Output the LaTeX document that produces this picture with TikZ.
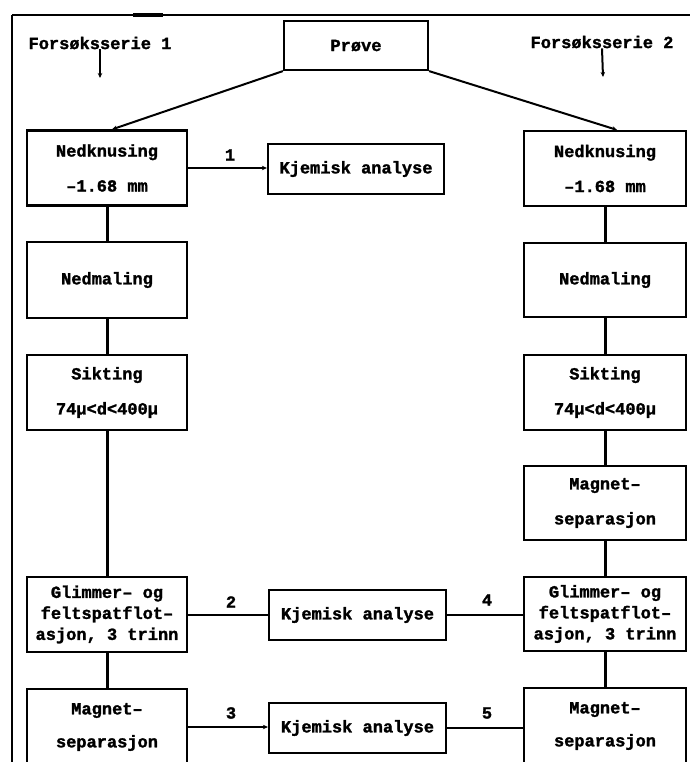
\documentclass[tikz,border=0pt]{standalone}
\usepackage{fontspec}
\setmainfont{Liberation Mono}[BoldFeatures={FakeBold=1.5}]
\usetikzlibrary{arrows.meta}
\begin{document}
\begin{tikzpicture}[x=1pt,y=-1pt,
  txt/.style={font=\bfseries\fontsize{17}{35}\selectfont,inner sep=0pt},
  box/.style={draw,line width=2.2pt,rectangle,inner sep=0pt,minimum width=160pt,minimum height=75pt,align=center,font=\bfseries\fontsize{17}{35}\selectfont},
  rbox/.style={box,minimum width=162pt},
  gbox/.style={box,font=\bfseries\fontsize{17}{21}\selectfont},
  kbox/.style={box,minimum width=177pt,minimum height=50pt},
  conn/.style={line width=3pt},
  hconn/.style={line width=2pt},
  tip/.style={-{Stealth[length=5pt,width=4.5pt]}}
]
\useasboundingbox (0,0) rectangle (690,762);
% frame
\draw[line width=2pt] (12,15) -- (690,15);
\draw[line width=3.5pt] (133,15) -- (163,15);
\draw[line width=1.2pt] (12,15) -- (12,762);

% headings
\node[txt] (fs1) at (100,43) {Forsøksserie 1};
\node[txt] (fs2) at (602,42) {Forsøksserie 2};
\coordinate (fs1end) at (100,78);
\coordinate (fs2end) at (603,77);
\draw[hconn,tip] (fs1.south) -- (fs1end);
\draw[hconn,tip] (fs2.south) -- (fs2end);

% boxes
\node[box,minimum width=144pt,minimum height=49pt] (pr) at (356,45.5) {Prøve};
\node[box] (ned1) at (107,168) {Nedknusing\\–1.68 mm};
\node[rbox] (ned2) at (605,168.5) {Nedknusing\\–1.68 mm};
\node[box,minimum height=76pt] (mal1) at (107,280) {Nedmaling};
\node[rbox,minimum height=74pt] (mal2) at (605,280) {Nedmaling};
\node[box] (sik1) at (107,392.5) {Sikting\\74µ<d<400µ};
\node[rbox] (sik2) at (605,392.5) {Sikting\\74µ<d<400µ};
\node[rbox,minimum height=74pt] (mag2) at (605,503) {Magnet–\\separasjon};
\node[gbox] (gli1) at (107,614.5) {Glimmer– og\\feltspatflot–\\asjon, 3 trinn};
\node[gbox,minimum width=162pt,minimum height=74pt] (gli2) at (605,614) {Glimmer– og\\feltspatflot–\\asjon, 3 trinn};
\node[box,minimum height=76pt,font=\bfseries\fontsize{17}{33}\selectfont] (mag1) at (107,727) {Magnet–\\separasjon\vphantom{g}};
\node[rbox,minimum height=76pt,font=\bfseries\fontsize{17}{33}\selectfont] (mag3) at (605,726) {Magnet–\\separasjon\vphantom{g}};
\node[kbox,minimum width=176pt] (kj1) at (356,169) {Kjemisk analyse};
\node[kbox] (kj2) at (357.5,615) {Kjemisk analyse};
\node[kbox] (kj3) at (357.5,728) {Kjemisk analyse};

% connectors from sample
\draw[hconn,tip] (pr.south west) -- ([xshift=5pt]ned1.north);
\draw[hconn,tip] (pr.south east) -- ([xshift=12pt]ned2.north);

% vertical chains
\draw[conn] (ned1.south) -- (mal1.north);
\draw[conn] (mal1.south) -- (sik1.north);
\draw[conn] (sik1.south) -- (gli1.north);
\draw[conn] (gli1.south) -- (mag1.north);
\draw[conn] (ned2.south) -- (mal2.north);
\draw[conn] (mal2.south) -- (sik2.north);
\draw[conn] (sik2.south) -- (mag2.north);
\draw[conn] (mag2.south) -- (gli2.north);
\draw[conn] (gli2.south) -- (mag3.north);

% horizontal connectors
\draw[hconn,tip] (ned1.east) -- (ned1.east -| kj1.west);
\draw[hconn] (gli1.east) -- (gli1.east -| kj2.west);
\draw[hconn] (kj2.east) -- (kj2.east -| gli2.west);
\draw[hconn,tip] (mag1.east) -- (mag1.east -| kj3.west);
\draw[hconn] (kj3.east) -- (kj3.east -| mag3.west);

% numbers
\node[txt] (n1) at (230,155) {1};
\node[txt] (n2) at (231,602) {2};
\node[txt] (n3) at (231,713) {3};
\node[txt] (n4) at (487,600) {4};
\node[txt] (n5) at (487,713) {5};
\end{tikzpicture}
\end{document}
